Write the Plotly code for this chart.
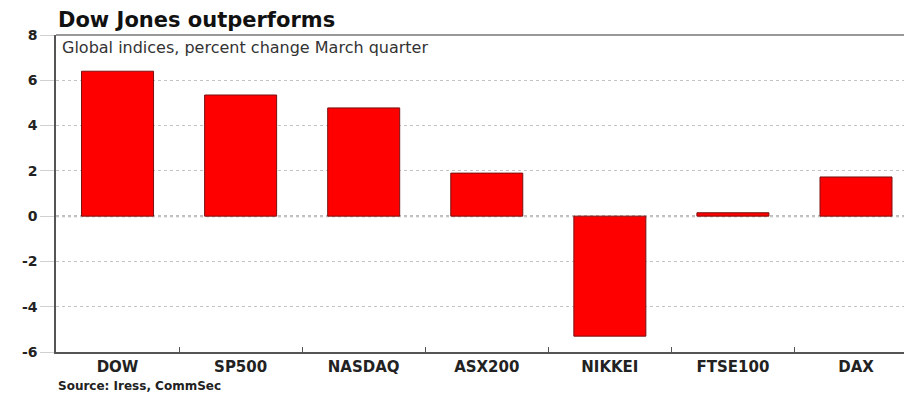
import plotly.graph_objects as go

categories = ["DOW", "SP500", "NASDAQ", "ASX200", "NIKKEI", "FTSE100", "DAX"]
values = [6.4, 5.35, 4.78, 1.9, -5.3, 0.15, 1.73]
y_ticks = [-6, -4, -2, 0, 2, 4, 6, 8]
y_tick_text = ["-6", "-4", "-2", "0", "2", "4", "6", "8"]

FONT = "DejaVu Sans, Liberation Sans, Arial, sans-serif"

fig = go.Figure()
fig.add_trace(go.Bar(
    x=categories, y=values, width=0.585,
    marker=dict(color="#FF0000", line=dict(color="#7a1010", width=1)),
))

fig.update_layout(
    width=904, height=396,
    margin=dict(l=56, r=0, t=35, b=44),
    paper_bgcolor="white", plot_bgcolor="white",
    showlegend=False,
    font=dict(family=FONT, color="#222"),
    xaxis=dict(
        range=[-0.5, 6.39], showgrid=False, tickson="boundaries",
        ticks="inside", ticklen=5, tickcolor="#555",
        showline=True, linecolor="#555", linewidth=1.5,
        ticklabelstandoff=0,
        tickfont=dict(family=FONT, size=15, color="#222", weight="bold"),
    ),
    yaxis=dict(
        range=[-6, 8], tickvals=y_ticks, ticktext=y_tick_text, showgrid=True,
        gridcolor="#c4c4c4", griddash="dot", gridwidth=1,
        zeroline=False,
        showline=True, linecolor="#555", linewidth=1.5,
        ticks="outside", ticklen=14, tickcolor="#d0d0d0",
        tickfont=dict(family=FONT, size=14, color="#222", weight="bold"),
    ),
    annotations=[
        dict(text="<b>Dow Jones outperforms</b>", xref="paper", yref="paper",
             x=0.0, y=1.0, xanchor="left", yanchor="bottom", yshift=1, xshift=0,
             showarrow=False, font=dict(family=FONT, size=21, color="#111")),
        dict(text="Global indices, percent change March quarter", xref="paper", yref="paper",
             x=0.0, y=1.0, xanchor="left", yanchor="top", xshift=4, yshift=-1,
             showarrow=False, font=dict(family=FONT, size=16, color="#333")),
        dict(text="<b>Source: Iress, CommSec</b>", xref="paper", yref="paper",
             x=0.0, y=0.0, xanchor="left", yanchor="top", xshift=0, yshift=-25,
             showarrow=False, font=dict(family=FONT, size=12, color="#222")),
    ],
)
fig.add_shape(type="line", xref="paper", yref="paper", x0=0, x1=1, y0=1, y1=1,
              line=dict(color="#777", width=1.5))
fig.add_shape(type="line", xref="paper", yref="y", x0=0, x1=1, y0=0, y1=0,
              line=dict(color="#aaaaaa", width=2, dash="dot"), layer="below")

fig.write_html("out.html")
